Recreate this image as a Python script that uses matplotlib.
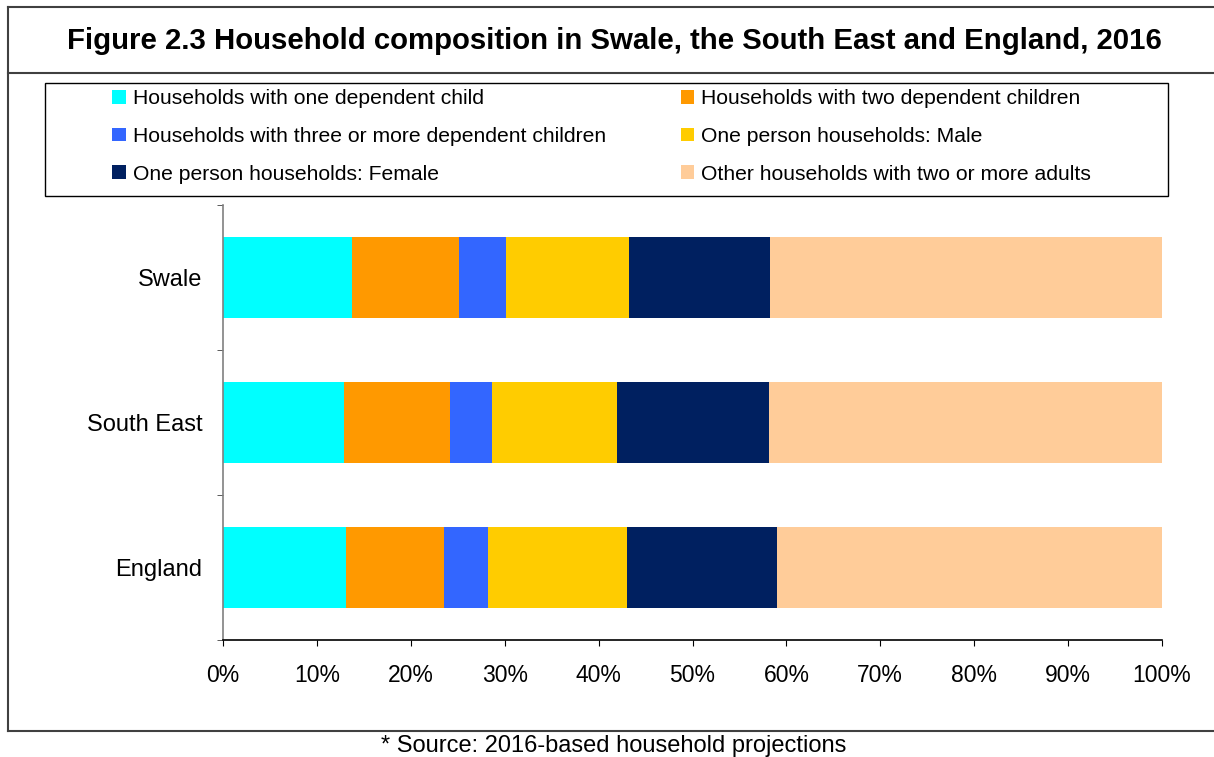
import matplotlib.pyplot as plt
from matplotlib.patches import Patch, Rectangle
from matplotlib.lines import Line2D
from matplotlib.ticker import PercentFormatter, FixedLocator

plt.rcParams['font.family'] = ['Liberation Sans', 'DejaVu Sans']

areas = ['Swale', 'South East', 'England']
series = [
    'Households with one dependent child',
    'Households with two dependent children',
    'Households with three or more dependent children',
    'One person households: Male',
    'One person households: Female',
    'Other households with two or more adults',
]
colors = ['#00FFFF', '#FF9900', '#3366FF', '#FFCC00', '#002060', '#FFCC99']

# shares (%) per area, in series order
swale = [13.7, 11.4, 5.0, 13.1, 15.1, 41.7]
south_east = [12.9, 11.3, 4.4, 13.4, 16.1, 41.9]
england = [13.1, 10.4, 4.7, 14.8, 16.0, 41.0]
values = [swale, south_east, england]

fig = plt.figure(figsize=(12.14, 7.57), dpi=100)
W, H = 1214, 757

def fx(px):
    return px / W

def fy(py):
    return 1 - py / H

ax = fig.add_axes([fx(223), fy(640), fx(1162) - fx(223), fy(205) - fy(640)])

ypos = [2, 1, 0]
for i, name in enumerate(series):
    left = [sum(v[:i]) for v in values]
    width = [v[i] for v in values]
    ax.barh(ypos, width, left=left, height=0.56, color=colors[i], label=name)

ax.set_xlim(0, 100)
ax.set_ylim(-0.5, 2.5)
ax.set_xticks(range(0, 101, 10))
ax.xaxis.set_major_formatter(PercentFormatter(decimals=0))
ax.set_yticks(ypos)
ax.set_yticklabels(areas)
ax.yaxis.set_minor_locator(FixedLocator([-0.5, 0.5, 1.5, 2.5]))
ax.tick_params(axis='y', which='major', length=0, pad=15, labelsize=17)
ax.tick_params(axis='y', which='minor', length=4.5, color='#404040')
ax.tick_params(axis='x', length=4.5, pad=13, labelsize=16.5)
for s in ['top', 'right']:
    ax.spines[s].set_visible(False)
ax.spines['left'].set_color('#808080')
ax.spines['left'].set_linewidth(1.2)
ax.spines['bottom'].set_linewidth(1.2)

# outer frame and title divider
frame_kw = dict(color='#404040', lw=1.5, transform=fig.transFigure)
fig.add_artist(Line2D([fx(8), fx(8)], [fy(7), fy(731)], **frame_kw))
fig.add_artist(Line2D([fx(8), 1], [fy(7), fy(7)], **frame_kw))
fig.add_artist(Line2D([fx(8), 1], [fy(731), fy(731)], **frame_kw))
fig.add_artist(Line2D([fx(8), 1], [fy(73), fy(73)], **frame_kw))

fig.text(fx(614), fy(41), 'Figure 2.3 Household composition in Swale, the South East and England, 2016',
         ha='center', va='center', fontsize=21.2, fontweight='bold')
fig.text(fx(614), fy(746), '* Source: 2016-based household projections',
         ha='center', va='center', fontsize=17)

# legend box
fig.add_artist(Rectangle((fx(45), fy(196)), fx(1168) - fx(45), fy(83) - fy(196),
                         fill=False, ec='black', lw=1.0, transform=fig.transFigure))
handles = [Patch(facecolor=c, edgecolor='none') for c in colors]
order = [0, 2, 4, 1, 3, 5]
fig.legend([handles[k] for k in order], [series[k] for k in order],
           ncol=2, loc='upper left', bbox_to_anchor=(fx(104), fy(81)),
           frameon=False, fontsize=15.2, handlelength=0.62, handleheight=0.62,
           handletextpad=0.35, columnspacing=3.55, labelspacing=0.88,
           borderaxespad=0)

fig.savefig('out.png', dpi=100)
